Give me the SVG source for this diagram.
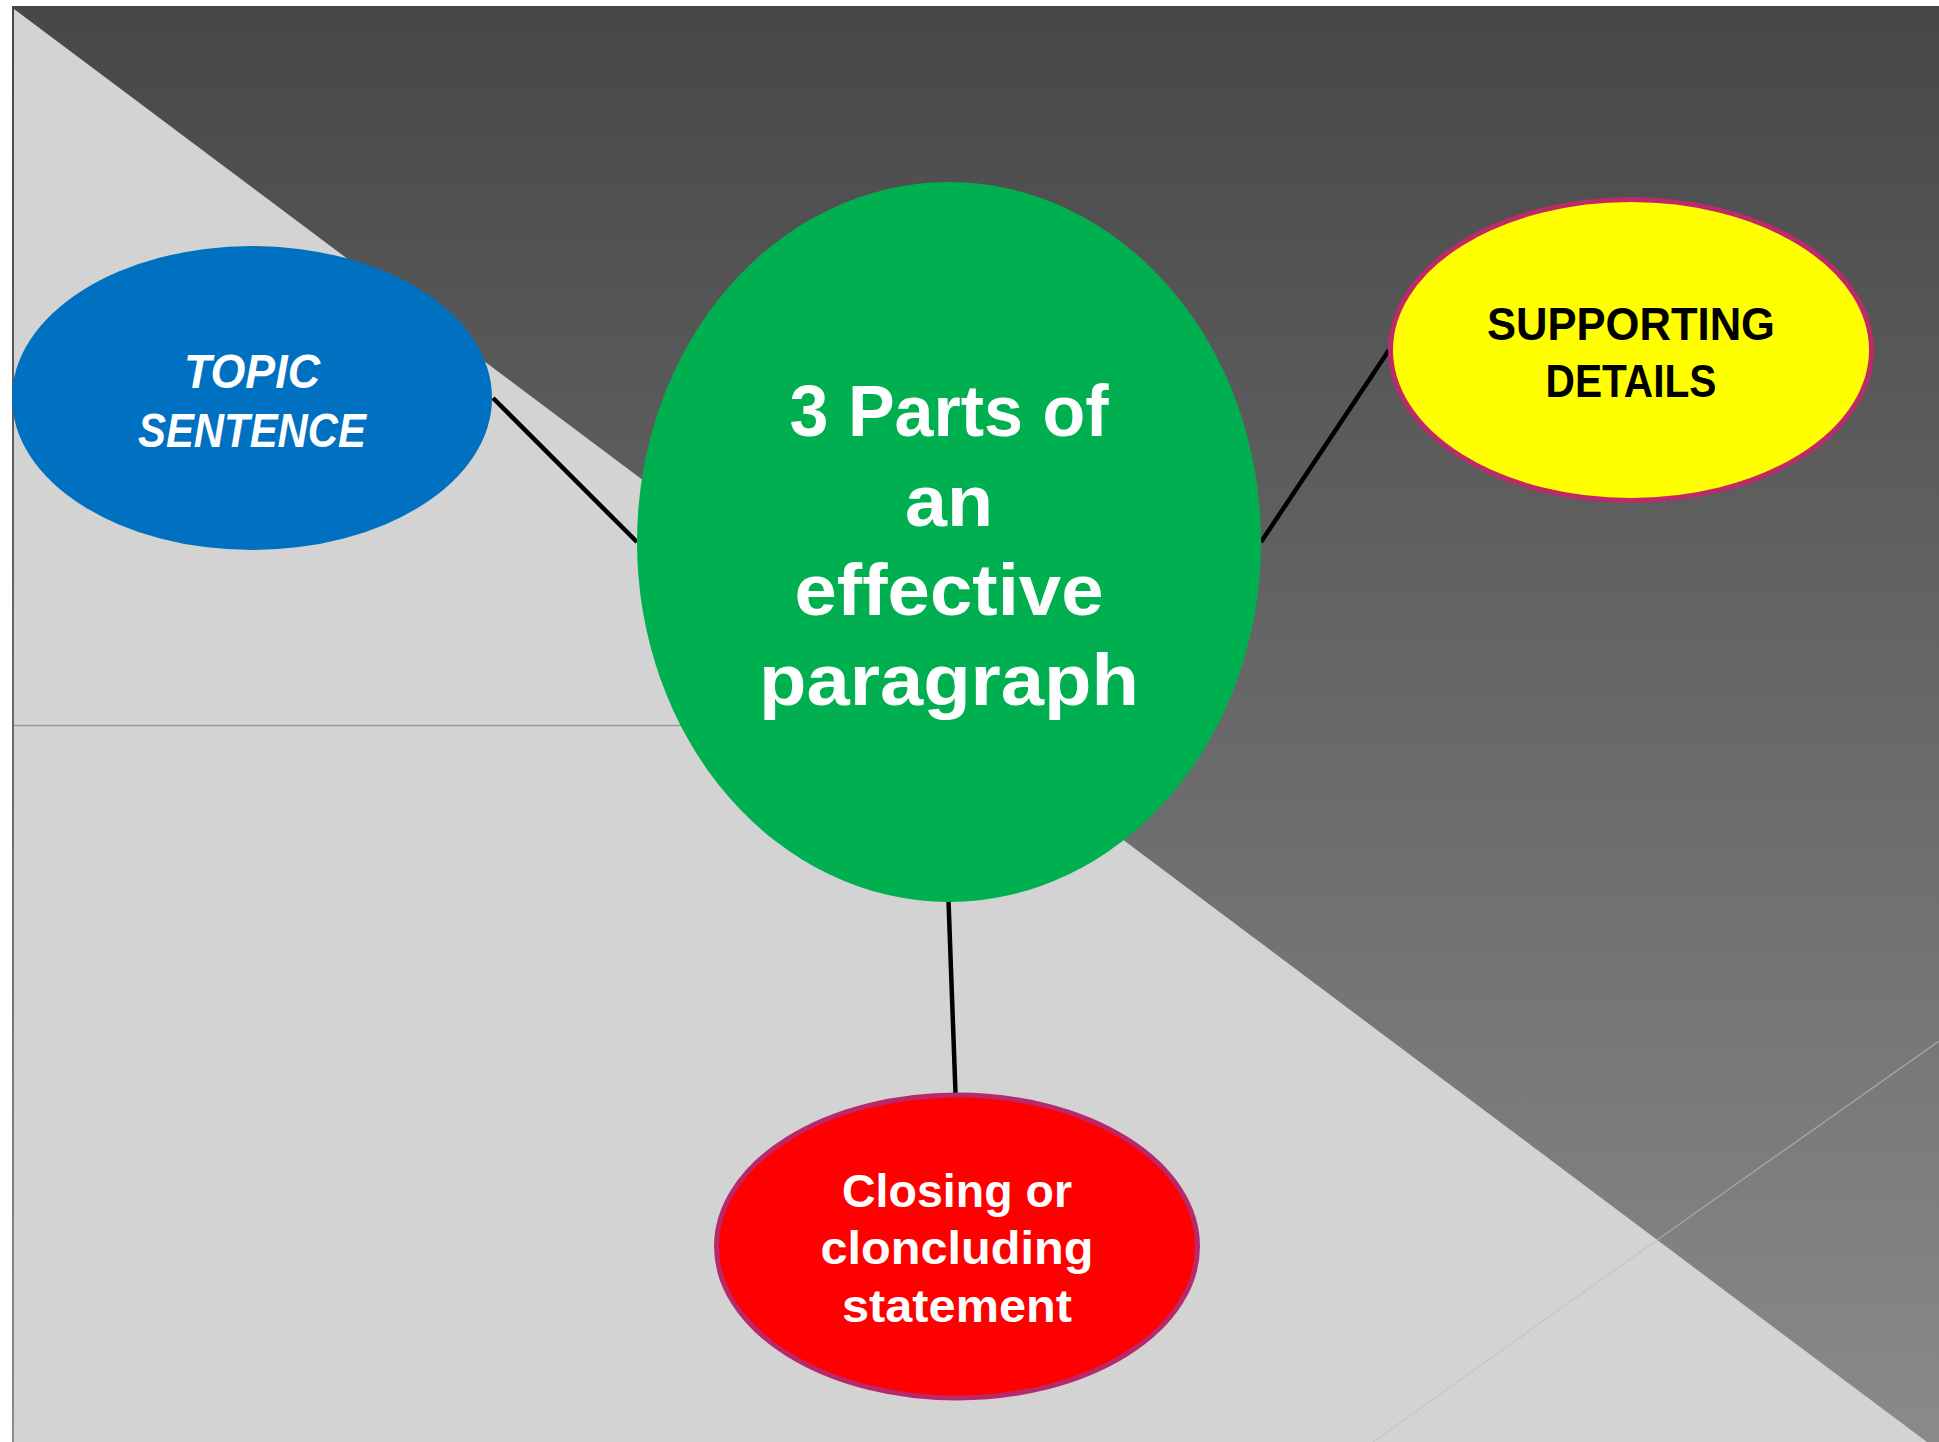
<svg xmlns="http://www.w3.org/2000/svg" width="1939" height="1442" viewBox="0 0 1939 1442">
<defs>
<linearGradient id="dark" x1="0" y1="6" x2="0" y2="1442" gradientUnits="userSpaceOnUse">
<stop offset="0" stop-color="#474747"/>
<stop offset="1" stop-color="#8a8a8a"/>
</linearGradient>
</defs>
<style>
.lbl{font-family:"Liberation Sans",Arial,sans-serif;font-weight:bold;text-anchor:middle}
.conn{stroke:#000;stroke-width:4.5;fill:none}
</style>
<rect x="0" y="0" width="1939" height="1442" fill="#ffffff"/>
<rect x="12" y="6" width="1927" height="1436" fill="url(#dark)"/>
<polygon points="14,9 1927,1442 14,1442" fill="#d3d3d3"/>
<line x1="14" y1="725.5" x2="960" y2="725.5" stroke="#9a9a9a" stroke-width="1.5"/>
<line x1="1373" y1="1442" x2="1657" y2="1240" stroke="#c6c6c6" stroke-width="1.2"/>
<line x1="1657" y1="1240" x2="1939" y2="1041" stroke="#a4a4a4" stroke-width="1.5"/>
<g id="connectors">
<line class="conn" x1="493" y1="398" x2="637" y2="542"/>
<line class="conn" x1="1389" y1="350" x2="1261" y2="542"/>
<line class="conn" x1="948.5" y1="901" x2="955.5" y2="1093"/>
</g>
<g id="topic">
<ellipse cx="252" cy="398" rx="240" ry="152" fill="#0070c0"/>
<text class="lbl" x="252" y="388" font-size="48" font-style="italic" fill="#ffffff" textLength="136" lengthAdjust="spacingAndGlyphs">TOPIC</text>
<text class="lbl" x="252" y="447" font-size="48" font-style="italic" fill="#ffffff" textLength="228" lengthAdjust="spacingAndGlyphs">SENTENCE</text>
</g>
<g id="center">
<ellipse cx="949" cy="542" rx="312" ry="360" fill="#00b050"/>
<text class="lbl" x="949" y="436" font-size="73" fill="#ffffff" textLength="319" lengthAdjust="spacingAndGlyphs">3 Parts of</text>
<text class="lbl" x="949" y="526" font-size="73" fill="#ffffff" textLength="88" lengthAdjust="spacingAndGlyphs">an</text>
<text class="lbl" x="949" y="615" font-size="73" fill="#ffffff" textLength="309" lengthAdjust="spacingAndGlyphs">effective</text>
<text class="lbl" x="949" y="705" font-size="73" fill="#ffffff" textLength="380" lengthAdjust="spacingAndGlyphs">paragraph</text>
</g>
<g id="supporting">
<ellipse cx="1631" cy="350" rx="240.5" ry="150.5" fill="#ffff00" stroke="#bc2a6a" stroke-width="5"/>
<text class="lbl" x="1631" y="340" font-size="47" fill="#000000" textLength="288" lengthAdjust="spacingAndGlyphs">SUPPORTING</text>
<text class="lbl" x="1631" y="397" font-size="47" fill="#000000" textLength="171" lengthAdjust="spacingAndGlyphs">DETAILS</text>
</g>
<g id="closing">
<ellipse cx="957" cy="1246.5" rx="240.5" ry="151.5" fill="#ff0000" stroke="#b8286a" stroke-width="5"/>
<text class="lbl" x="957" y="1207" font-size="47" fill="#ffffff" textLength="230" lengthAdjust="spacingAndGlyphs">Closing or</text>
<text class="lbl" x="957" y="1264" font-size="47" fill="#ffffff" textLength="273" lengthAdjust="spacingAndGlyphs">cloncluding</text>
<text class="lbl" x="957" y="1322" font-size="47" fill="#ffffff" textLength="230" lengthAdjust="spacingAndGlyphs">statement</text>
</g>
</svg>
